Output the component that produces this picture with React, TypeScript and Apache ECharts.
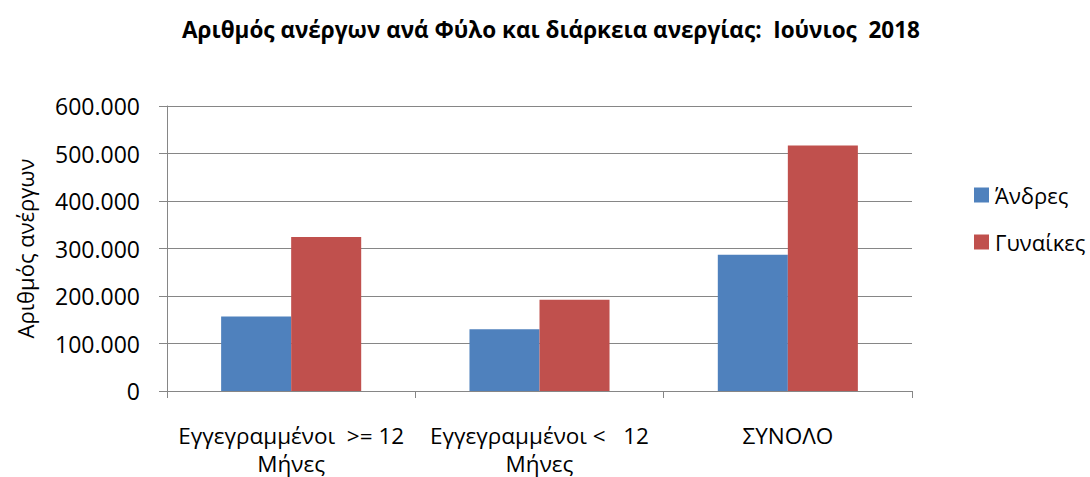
import React, { useEffect, useRef } from "react";
import * as echarts from "echarts";

const categories = ["Εγγεγραμμένοι  >= 12\nΜήνες", "Εγγεγραμμένοι <   12\nΜήνες", "ΣΥΝΟΛΟ"];
const men = [157000, 130000, 287000];
const women = [324000, 192000, 517000];
const seriesNames = ["Άνδρες", "Γυναίκες"];

const FONT = "'Open Sans', 'Noto Sans', sans-serif";

function fmt(v: number): string {
  return String(v).replace(/\B(?=(\d{3})+(?!\d))/g, ".");
}

export default function App() {
  const ref = useRef<HTMLDivElement>(null);
  useEffect(() => {
    if (!ref.current) return;
    const chart = echarts.init(ref.current, undefined, { renderer: "svg" });
    chart.setOption({
      animation: false,
      backgroundColor: "#ffffff",
      title: {
        text: "Αριθμός ανέργων ανά Φύλο και διάρκεια ανεργίας:  Ιούνιος  2018",
        left: 546,
        textAlign: "center",
        top: 13,
        textStyle: { fontFamily: FONT, fontSize: 22.5, fontWeight: "bold", color: "#000" },
      },
      legend: {
        orient: "vertical",
        left: 969,
        top: 179,
        itemWidth: 15,
        itemHeight: 15,
        itemGap: 25,
        icon: "rect",
        textStyle: { fontFamily: FONT, fontSize: 22, color: "#000", padding: [0, 0, 0, 1] },
        data: seriesNames,
      },
      grid: { left: 167, right: 178, top: 106, bottom: 85 },
      xAxis: {
        type: "category",
        data: categories,
        axisLine: { lineStyle: { color: "#868686" } },
        axisTick: { show: true, length: 7, lineStyle: { color: "#868686" } },
        axisLabel: {
          interval: 0,
          margin: 30,
          fontFamily: FONT,
          fontSize: 22.5,
          color: "#000",
          lineHeight: 28,
        },
      },
      yAxis: {
        type: "value",
        min: 0,
        max: 600000,
        interval: 100000,
        name: "Αριθμός ανέργων",
        nameLocation: "middle",
        nameGap: 131,
        nameRotate: 90,
        nameTextStyle: { fontFamily: FONT, fontSize: 22, color: "#000" },
        axisLine: { show: true, lineStyle: { color: "#868686" } },
        axisTick: { show: true, length: 8, lineStyle: { color: "#868686" } },
        splitLine: { lineStyle: { color: "#868686" } },
        axisLabel: {
          fontFamily: FONT,
          fontSize: 23,
          color: "#000",
          margin: 27,
          formatter: (v: number) => fmt(v),
        },
      },
      series: [
        {
          name: seriesNames[0],
          type: "bar",
          data: men,
          barGap: "0%",
          barCategoryGap: "43.6%",
          itemStyle: { color: "#4F81BD" },
        },
        {
          name: seriesNames[1],
          type: "bar",
          data: women,
          barGap: "0%",
          barCategoryGap: "43.6%",
          itemStyle: { color: "#C0504D" },
        },
      ],
    });
    return () => chart.dispose();
  }, []);
  return <div ref={ref} style={{ width: 1090, height: 477, position: "absolute", left: 0, top: 0 }} />;
}
